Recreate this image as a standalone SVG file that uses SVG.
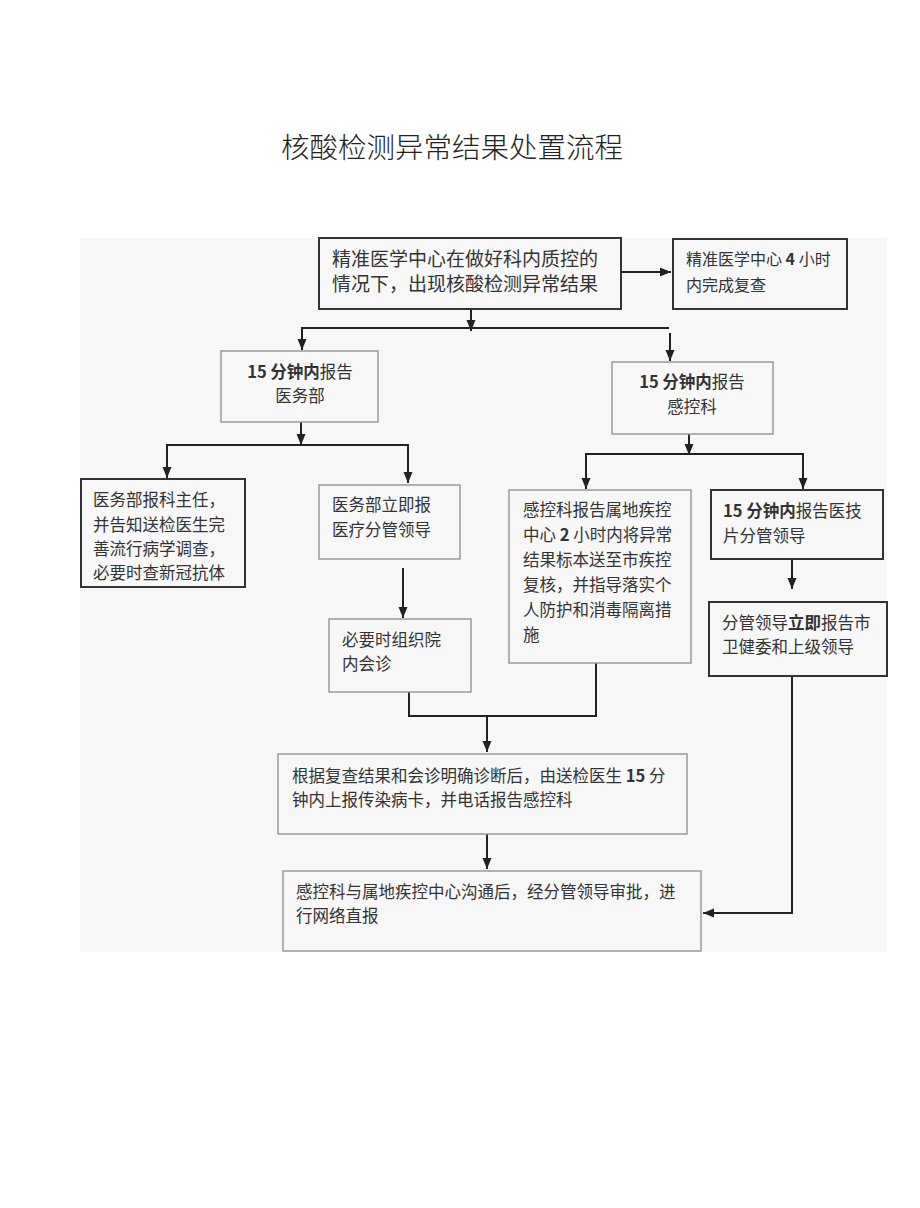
<svg xmlns="http://www.w3.org/2000/svg" width="920" height="1208" viewBox="0 0 920 1208">
<style>
.t{font-family:"Noto Sans CJK SC","Noto Sans",sans-serif;fill:#333;font-size:16.5px}
.b{font-weight:bold}
.dk{fill:#f7f7f7;stroke:#333;stroke-width:2}
.lt{fill:#f7f7f7;stroke:#9a9a9a;stroke-width:1.5}
.c{fill:none;stroke:#222;stroke-width:2}
</style>
<defs>
<marker id="ah" markerUnits="userSpaceOnUse" markerWidth="12" markerHeight="12" viewBox="0 0 12 12" refX="11" refY="6" orient="auto">
<path d="M0,1.5 L11,6 L0,10.5 Z" fill="#222"/>
</marker>
</defs>
<rect x="0" y="0" width="920" height="1208" fill="#fff"/>
<text x="452" y="158" text-anchor="middle" style="font-family:'Noto Sans CJK SC',sans-serif;font-size:28.5px;fill:#222;font-weight:300">核酸检测异常结果处置流程</text>
<rect x="80" y="238" width="807" height="714" fill="#f7f7f7"/>

<g id="connectors">
<path class="c" d="M621,272 H671" marker-end="url(#ah)"/>
<path class="c" d="M471,309 V331" marker-end="url(#ah)"/>
<path class="c" d="M302,328 H669"/>
<path class="c" d="M302,327 V350" marker-end="url(#ah)"/>
<path class="c" d="M670,333 V361" marker-end="url(#ah)"/>
<path class="c" d="M301,422 V445" marker-end="url(#ah)"/>
<path class="c" d="M167,445 H408"/>
<path class="c" d="M167,444 V478" marker-end="url(#ah)"/>
<path class="c" d="M408,444 V483" marker-end="url(#ah)"/>
<path class="c" d="M689,434 V455" marker-end="url(#ah)"/>
<path class="c" d="M586,454 H803"/>
<path class="c" d="M586,453 V489" marker-end="url(#ah)"/>
<path class="c" d="M803,453 V489" marker-end="url(#ah)"/>
<path class="c" d="M403,568 V618" marker-end="url(#ah)"/>
<path class="c" d="M792,559 V589" marker-end="url(#ah)"/>
<path class="c" d="M409,692 V716 H596 V663"/>
<path class="c" d="M487,716 V752" marker-end="url(#ah)"/>
<path class="c" d="M487,834 V869" marker-end="url(#ah)"/>
<path class="c" d="M792,676 V913 H703" marker-end="url(#ah)"/>
</g>

<g id="n1">
<rect class="dk" x="319" y="238" width="302" height="71"/>
<text class="t" x="332" y="266" style="font-size:19px">精准医学中心在做好科内质控的</text>
<text class="t" x="332" y="291" style="font-size:19px">情况下，出现核酸检测异常结果</text>
</g>
<g id="n2">
<rect class="dk" x="673" y="239" width="174" height="70"/>
<text class="t" x="686" y="265" style="font-size:16px">精准医学中心 <tspan class="b">4</tspan> 小时</text>
<text class="t" x="686" y="291" style="font-size:16px">内完成复查</text>
</g>
<g id="n3">
<rect class="lt" x="221" y="351" width="157" height="71"/>
<text class="t" x="300" y="378" text-anchor="middle"><tspan class="b">15 分钟内</tspan>报告</text>
<text class="t" x="300" y="402" text-anchor="middle">医务部</text>
</g>
<g id="n4">
<rect class="lt" x="612" y="362" width="161" height="72"/>
<text class="t" x="692" y="388" text-anchor="middle"><tspan class="b">15 分钟内</tspan>报告</text>
<text class="t" x="692" y="413" text-anchor="middle">感控科</text>
</g>
<g id="n5">
<rect class="dk" x="81" y="479" width="164" height="108"/>
<text class="t" x="93" y="506">医务部报科主任，</text>
<text class="t" x="93" y="531">并告知送检医生完</text>
<text class="t" x="93" y="555">善流行病学调查，</text>
<text class="t" x="93" y="579">必要时查新冠抗体</text>
</g>
<g id="n6">
<rect class="lt" x="319" y="485" width="141" height="74"/>
<text class="t" x="332" y="511">医务部立即报</text>
<text class="t" x="332" y="536">医疗分管领导</text>
</g>
<g id="n7">
<rect class="lt" x="329" y="619" width="142" height="73"/>
<text class="t" x="342" y="646">必要时组织院</text>
<text class="t" x="342" y="670">内会诊</text>
</g>
<g id="n8">
<rect class="lt" x="509" y="490" width="182" height="173"/>
<text class="t" x="523" y="516">感控科报告属地疾控</text>
<text class="t" x="523" y="541">中心 <tspan class="b">2</tspan> 小时内将异常</text>
<text class="t" x="523" y="566">结果标本送至市疾控</text>
<text class="t" x="523" y="591">复核，并指导落实个</text>
<text class="t" x="523" y="616">人防护和消毒隔离措</text>
<text class="t" x="523" y="641">施</text>
</g>
<g id="n9">
<rect class="dk" x="711" y="490" width="172" height="69"/>
<text class="t" x="723" y="517"><tspan class="b">15 分钟内</tspan>报告医技</text>
<text class="t" x="723" y="542">片分管领导</text>
</g>
<g id="n10">
<rect class="dk" x="709" y="602" width="178" height="74"/>
<text class="t" x="722" y="629">分管领导<tspan class="b">立即</tspan>报告市</text>
<text class="t" x="722" y="653">卫健委和上级领导</text>
</g>
<g id="n11">
<rect class="lt" x="278" y="754" width="409" height="80"/>
<text class="t" x="292" y="782">根据复查结果和会诊明确诊断后，由送检医生 <tspan class="b">15</tspan> 分</text>
<text class="t" x="292" y="806">钟内上报传染病卡，并电话报告感控科</text>
</g>
<g id="n12">
<rect class="lt" x="283" y="871" width="418" height="80"/>
<text class="t" x="296" y="898">感控科与属地疾控中心沟通后，经分管领导审批，进</text>
<text class="t" x="296" y="922">行网络直报</text>
</g>
</svg>
